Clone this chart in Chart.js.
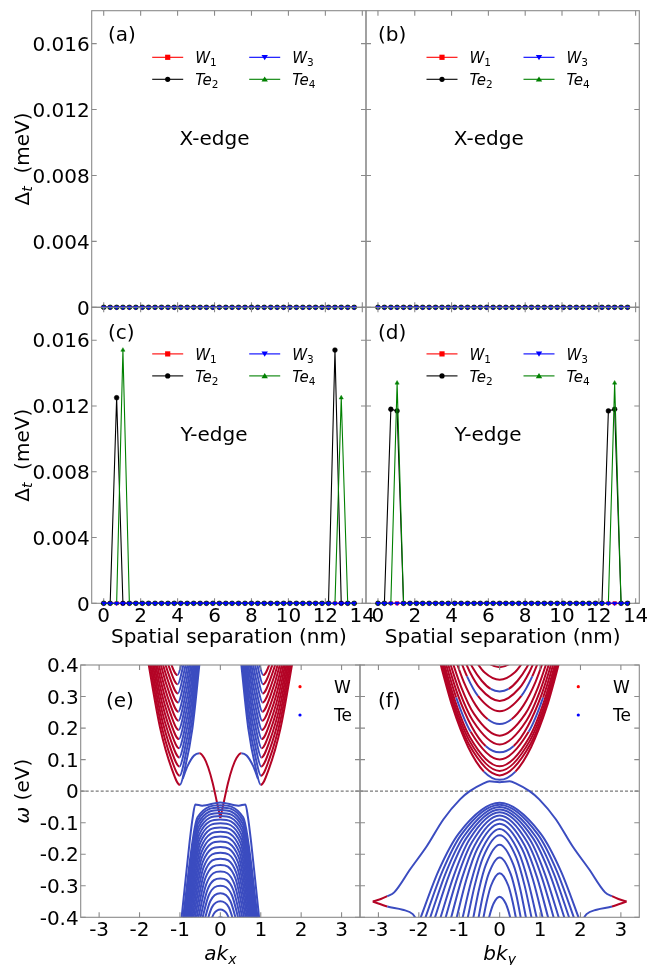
<!DOCTYPE html>
<html>
<head>
<meta charset="utf-8">
<script src="https://cdn.jsdelivr.net/npm/chart.js@4.4.1/dist/chart.umd.min.js"></script>
<style>
  html, body { margin: 0; padding: 0; background: #fff; }
  #fig { position: relative; width: 647px; height: 965px; overflow: hidden; }
  #fig canvas { position: absolute; left: 0; top: 0; }
</style>
</head>
<body>
<div id="fig">
  <canvas id="pa" width="647" height="965"></canvas>
  <canvas id="pb" width="647" height="965"></canvas>
  <canvas id="pc" width="647" height="965"></canvas>
  <canvas id="pd" width="647" height="965"></canvas>
  <canvas id="pe" width="647" height="965"></canvas>
  <canvas id="pf" width="647" height="965"></canvas>
</div>
<script>
// ---------- top panels: Δt vs spatial separation ----------
const sitePos = [0.00, 0.35, 0.70, 1.04, 1.39, 1.74, 2.09, 2.43, 2.78, 3.13,
                 3.48, 3.82, 4.17, 4.52, 4.87, 5.22, 5.56, 5.91, 6.26, 6.61,
                 6.95, 7.30, 7.65, 8.00, 8.34, 8.69, 9.04, 9.39, 9.74, 10.08,
                 10.43, 10.78, 11.13, 11.47, 11.82, 12.17, 12.52, 12.86, 13.21, 13.56];

// X-edge (a, b): everything sits on zero
const xEdgeW1  = [0,0,0,0,0,0,0,0,0,0, 0,0,0,0,0,0,0,0,0,0, 0,0,0,0,0,0,0,0,0,0, 0,0,0,0,0,0,0,0,0,0];
const xEdgeTe2 = [0,0,0,0,0,0,0,0,0,0, 0,0,0,0,0,0,0,0,0,0, 0,0,0,0,0,0,0,0,0,0, 0,0,0,0,0,0,0,0,0,0];
const xEdgeW3  = [0,0,0,0,0,0,0,0,0,0, 0,0,0,0,0,0,0,0,0,0, 0,0,0,0,0,0,0,0,0,0, 0,0,0,0,0,0,0,0,0,0];
const xEdgeTe4 = [0,0,0,0,0,0,0,0,0,0, 0,0,0,0,0,0,0,0,0,0, 0,0,0,0,0,0,0,0,0,0, 0,0,0,0,0,0,0,0,0,0];

// Y-edge (c)
const yEdgeCW1  = [0,0,0,0,0,0,0,0,0,0, 0,0,0,0,0,0,0,0,0,0, 0,0,0,0,0,0,0,0,0,0, 0,0,0,0,0,0,0,0,0,0];
const yEdgeCTe2 = [0,0,0.0125,0,0,0,0,0,0,0, 0,0,0,0,0,0,0,0,0,0, 0,0,0,0,0,0,0,0,0,0, 0,0,0,0,0,0,0.0154,0,0,0];
const yEdgeCW3  = [0,0,0,0,0,0,0,0,0,0, 0,0,0,0,0,0,0,0,0,0, 0,0,0,0,0,0,0,0,0,0, 0,0,0,0,0,0,0,0,0,0];
const yEdgeCTe4 = [0,0,0,0.0154,0,0,0,0,0,0, 0,0,0,0,0,0,0,0,0,0, 0,0,0,0,0,0,0,0,0,0, 0,0,0,0,0,0,0,0.0125,0,0];

// Y-edge (d)
const yEdgeDW1  = [0,0,0,0,0,0,0,0,0,0, 0,0,0,0,0,0,0,0,0,0, 0,0,0,0,0,0,0,0,0,0, 0,0,0,0,0,0,0,0,0,0];
const yEdgeDTe2 = [0,0,0.0118,0.0117,0,0,0,0,0,0, 0,0,0,0,0,0,0,0,0,0, 0,0,0,0,0,0,0,0,0,0, 0,0,0,0,0,0,0.0117,0.0118,0,0];
const yEdgeDW3  = [0,0,0,0,0,0,0,0,0,0, 0,0,0,0,0,0,0,0,0,0, 0,0,0,0,0,0,0,0,0,0, 0,0,0,0,0,0,0,0,0,0];
const yEdgeDTe4 = [0,0,0,0.0134,0,0,0,0,0,0, 0,0,0,0,0,0,0,0,0,0, 0,0,0,0,0,0,0,0,0,0, 0,0,0,0,0,0,0,0.0134,0,0];

const sepRange = [-0.65, 14.2];
const sepTicks = [0, 2, 4, 6, 8, 10, 12, 14];
const sepTickLabels = ["0", "2", "4", "6", "8", "10", "12", "14"];
const gapRange = [0, 0.018];
const gapTicks = [0, 0.004, 0.008, 0.012, 0.016];
const gapTickLabels = ["0", "0.004", "0.008", "0.012", "0.016"];

// ---------- bottom panels: band structures [k, E] ----------
const kRange = [-3.456, 3.456];
const kTicks = [-3, -2, -1, 0, 1, 2, 3];
const kTickLabels = ["-3", "-2", "-1", "0", "1", "2", "3"];
const omegaRange = [-0.4, 0.4];
const omegaTicks = [-0.4, -0.3, -0.2, -0.1, 0, 0.1, 0.2, 0.3, 0.4];
const omegaTickLabels = ["-0.4", "-0.3", "-0.2", "-0.1", "0", "0.1", "0.2", "0.3", "0.4"];

// (e) conduction pockets around ak_x = -1 and +1
const eCondLeft = [
  [[-1.84,0.45],[-1.49,0.20],[-1.20,0.07],[-1.00,0.02],[-0.88,0.07],[-0.69,0.20],[-0.48,0.45]],
  [[-1.845,0.479],[-1.495,0.229],[-1.205,0.099],[-1.005,0.049],[-0.885,0.099],[-0.695,0.229],[-0.485,0.479]],
  [[-1.85,0.508],[-1.50,0.258],[-1.21,0.128],[-1.01,0.078],[-0.89,0.128],[-0.70,0.258],[-0.49,0.508]],
  [[-1.855,0.537],[-1.505,0.287],[-1.215,0.157],[-1.015,0.107],[-0.895,0.157],[-0.705,0.287],[-0.495,0.537]],
  [[-1.86,0.566],[-1.51,0.316],[-1.22,0.186],[-1.02,0.136],[-0.90,0.186],[-0.71,0.316],[-0.50,0.566]],
  [[-1.865,0.595],[-1.515,0.345],[-1.225,0.215],[-1.025,0.165],[-0.905,0.215],[-0.715,0.345],[-0.505,0.595]],
  [[-1.87,0.624],[-1.52,0.374],[-1.23,0.244],[-1.03,0.194],[-0.91,0.244],[-0.72,0.374],[-0.51,0.624]],
  [[-1.875,0.653],[-1.525,0.403],[-1.235,0.273],[-1.035,0.223],[-0.915,0.273],[-0.725,0.403],[-0.515,0.653]],
  [[-1.88,0.682],[-1.53,0.432],[-1.24,0.302],[-1.04,0.252],[-0.92,0.302],[-0.73,0.432],[-0.52,0.682]],
  [[-1.885,0.711],[-1.535,0.461],[-1.245,0.331],[-1.045,0.281],[-0.925,0.331],[-0.735,0.461],[-0.525,0.711]],
  [[-1.89,0.74],[-1.54,0.49],[-1.25,0.36],[-1.05,0.31],[-0.93,0.36],[-0.74,0.49],[-0.53,0.74]],
  [[-1.895,0.769],[-1.545,0.519],[-1.255,0.389],[-1.055,0.339],[-0.935,0.389],[-0.745,0.519],[-0.535,0.769]],
  [[-1.90,0.798],[-1.55,0.548],[-1.26,0.418],[-1.06,0.368],[-0.94,0.418],[-0.75,0.548],[-0.54,0.798]]
];
const eCondRight = [
  [[0.48,0.45],[0.69,0.20],[0.88,0.07],[1.00,0.02],[1.20,0.07],[1.49,0.20],[1.84,0.45]],
  [[0.485,0.479],[0.695,0.229],[0.885,0.099],[1.005,0.049],[1.205,0.099],[1.495,0.229],[1.845,0.479]],
  [[0.49,0.508],[0.70,0.258],[0.89,0.128],[1.01,0.078],[1.21,0.128],[1.50,0.258],[1.85,0.508]],
  [[0.495,0.537],[0.705,0.287],[0.895,0.157],[1.015,0.107],[1.215,0.157],[1.505,0.287],[1.855,0.537]],
  [[0.50,0.566],[0.71,0.316],[0.90,0.186],[1.02,0.136],[1.22,0.186],[1.51,0.316],[1.86,0.566]],
  [[0.505,0.595],[0.715,0.345],[0.905,0.215],[1.025,0.165],[1.225,0.215],[1.515,0.345],[1.865,0.595]],
  [[0.51,0.624],[0.72,0.374],[0.91,0.244],[1.03,0.194],[1.23,0.244],[1.52,0.374],[1.87,0.624]],
  [[0.515,0.653],[0.725,0.403],[0.915,0.273],[1.035,0.223],[1.235,0.273],[1.525,0.403],[1.875,0.653]],
  [[0.52,0.682],[0.73,0.432],[0.92,0.302],[1.04,0.252],[1.24,0.302],[1.53,0.432],[1.88,0.682]],
  [[0.525,0.711],[0.735,0.461],[0.925,0.331],[1.045,0.281],[1.245,0.331],[1.535,0.461],[1.885,0.711]],
  [[0.53,0.74],[0.74,0.49],[0.93,0.36],[1.05,0.31],[1.25,0.36],[1.54,0.49],[1.89,0.74]],
  [[0.535,0.769],[0.745,0.519],[0.935,0.389],[1.055,0.339],[1.255,0.389],[1.545,0.519],[1.895,0.769]],
  [[0.54,0.798],[0.75,0.548],[0.94,0.418],[1.06,0.368],[1.26,0.418],[1.55,0.548],[1.90,0.798]]
];
// (e) valence dome around ak_x = 0
const eValTop = [[-0.975,-0.42],[-0.86,-0.28],[-0.76,-0.16],[-0.68,-0.08],[-0.62,-0.042],[-0.45,-0.046],[0,-0.036],
                 [0.45,-0.046],[0.62,-0.042],[0.68,-0.08],[0.76,-0.16],[0.86,-0.28],[0.975,-0.42]];
const eVal = [
  [[-0.942,-0.42],[-0.565,-0.083],[0,-0.045],[0.565,-0.083],[0.942,-0.42]],
  [[-0.932,-0.42],[-0.559,-0.092],[0,-0.052],[0.559,-0.092],[0.932,-0.42]],
  [[-0.920,-0.42],[-0.552,-0.103],[0,-0.060],[0.552,-0.103],[0.920,-0.42]],
  [[-0.906,-0.42],[-0.544,-0.114],[0,-0.069],[0.544,-0.114],[0.906,-0.42]],
  [[-0.890,-0.42],[-0.534,-0.125],[0,-0.079],[0.534,-0.125],[0.890,-0.42]],
  [[-0.873,-0.42],[-0.524,-0.138],[0,-0.090],[0.524,-0.138],[0.873,-0.42]],
  [[-0.854,-0.42],[-0.512,-0.151],[0,-0.102],[0.512,-0.151],[0.854,-0.42]],
  [[-0.833,-0.42],[-0.500,-0.165],[0,-0.115],[0.500,-0.165],[0.833,-0.42]],
  [[-0.809,-0.42],[-0.485,-0.179],[0,-0.129],[0.485,-0.179],[0.809,-0.42]],
  [[-0.784,-0.42],[-0.470,-0.194],[0,-0.144],[0.470,-0.194],[0.784,-0.42]],
  [[-0.756,-0.42],[-0.454,-0.209],[0,-0.160],[0.454,-0.209],[0.756,-0.42]],
  [[-0.726,-0.42],[-0.436,-0.225],[0,-0.177],[0.436,-0.225],[0.726,-0.42]],
  [[-0.694,-0.42],[-0.416,-0.242],[0,-0.195],[0.416,-0.242],[0.694,-0.42]],
  [[-0.658,-0.42],[-0.395,-0.259],[0,-0.214],[0.395,-0.259],[0.658,-0.42]],
  [[-0.619,-0.42],[-0.371,-0.276],[0,-0.234],[0.371,-0.276],[0.619,-0.42]],
  [[-0.576,-0.42],[-0.346,-0.294],[0,-0.255],[0.346,-0.294],[0.576,-0.42]],
  [[-0.528,-0.42],[-0.317,-0.312],[0,-0.277],[0.317,-0.312],[0.528,-0.42]],
  [[-0.476,-0.42],[-0.286,-0.330],[0,-0.300],[0.286,-0.330],[0.476,-0.42]],
  [[-0.416,-0.42],[-0.250,-0.349],[0,-0.324],[0.250,-0.349],[0.416,-0.42]],
  [[-0.347,-0.42],[-0.208,-0.368],[0,-0.349],[0.208,-0.368],[0.347,-0.42]],
  [[-0.264,-0.42],[-0.158,-0.388],[0,-0.375],[0.158,-0.388],[0.264,-0.42]],
  [[-0.162,-0.42],[-0.097,-0.406],[0,-0.400],[0.097,-0.406],[0.162,-0.42]]
];
// (e) edge states crossing near ak_x = 0
const eEdgeLeft = [[-0.93,0.040],[-0.81,0.080],[-0.65,0.113],[-0.52,0.120],[-0.40,0.105],
                   [-0.30,0.075],[-0.19,0.026],[-0.09,-0.032],[0.00,-0.085]];
const eEdgeRight = [[0.00,-0.085],[0.09,-0.032],[0.19,0.026],[0.30,0.075],[0.40,0.105],
                    [0.52,0.120],[0.65,0.113],[0.81,0.080],[0.93,0.040]];

// (f) conduction bands around bk_y = 0, with W/Te weight per segment
const fCond = [
  [[-1.561,0.45],[-1.171,0.269],[-0.780,0.140],[-0.390,0.062],[0,0.036],[0.390,0.062],[0.780,0.140],[1.171,0.269],[1.561,0.45]],
  [[-1.534,0.45],[-1.150,0.275],[-0.767,0.150],[0,0.050],[0.767,0.150],[1.150,0.275],[1.534,0.45]],
  [[-1.507,0.45],[-1.130,0.281],[-0.753,0.161],[0,0.064],[0.753,0.161],[1.130,0.281],[1.507,0.45]],
  [[-1.477,0.45],[-1.108,0.288],[-0.739,0.172],[0,0.079],[0.739,0.172],[1.108,0.288],[1.477,0.45]],
  [[-1.435,0.45],[-1.076,0.297],[-0.717,0.188],[0,0.100],[0.717,0.188],[1.076,0.297],[1.435,0.45]],
  [[-1.387,0.45],[-1.040,0.307],[-0.693,0.205],[-0.347,0.143],[0,0.123],[0.347,0.143],[0.693,0.205],[1.040,0.307],[1.387,0.45]],
  [[-1.333,0.45],[-1.000,0.318],[-0.666,0.224],[0,0.148],[0.666,0.224],[1.000,0.318],[1.333,0.45]],
  [[-1.270,0.45],[-0.952,0.330],[-0.635,0.245],[0,0.176],[0.635,0.245],[0.952,0.330],[1.270,0.45]],
  [[-1.181,0.45],[-0.886,0.346],[-0.590,0.272],[-0.295,0.228],[0,0.213],[0.295,0.228],[0.590,0.272],[0.886,0.346],[1.181,0.45]],
  [[-1.076,0.45],[-0.807,0.364],[-0.538,0.302],[0,0.253],[0.538,0.302],[0.807,0.364],[1.076,0.45]],
  [[-0.982,0.45],[-0.737,0.378],[-0.491,0.327],[0,0.286],[0.491,0.327],[0.737,0.378],[0.982,0.45]],
  [[-0.888,0.45],[-0.666,0.391],[-0.444,0.350],[-0.222,0.324],[0,0.316],[0.222,0.324],[0.444,0.350],[0.666,0.391],[0.888,0.45]],
  [[-0.755,0.45],[-0.566,0.408],[-0.378,0.377],[0,0.353],[0.378,0.377],[0.566,0.408],[0.755,0.45]],
  [[-0.579,0.45],[-0.434,0.425],[-0.290,0.407],[0,0.393],[0.290,0.407],[0.434,0.425],[0.579,0.45]]
];
const fCondAtoms = ["WWWTTWWW", "WWWWWW", "WWWWWW", "WWWWWW", "WTWWTW", "WWWTTWWW", "WWWWWW",
                    "WWWWWW", "WWWTTWWW", "WTWWTW", "WWWWWW", "WWWTTWWW", "WWWWWW", "WWWWWW"];
// (f) valence domes
const fVal = [
  [[-2.01,-0.42],[-1.51,-0.252],[-1.005,-0.133],[0,-0.037],[1.005,-0.133],[1.51,-0.252],[2.01,-0.42]],
  [[-1.89,-0.42],[-1.42,-0.255],[-0.945,-0.137],[0,-0.043],[0.945,-0.137],[1.42,-0.255],[1.89,-0.42]],
  [[-1.77,-0.42],[-1.33,-0.258],[-0.885,-0.143],[0,-0.050],[0.885,-0.143],[1.33,-0.258],[1.77,-0.42]],
  [[-1.65,-0.42],[-1.24,-0.262],[-0.825,-0.149],[0,-0.058],[0.825,-0.149],[1.24,-0.262],[1.65,-0.42]],
  [[-1.51,-0.42],[-1.13,-0.266],[-0.755,-0.155],[0,-0.067],[0.755,-0.155],[1.13,-0.266],[1.51,-0.42]],
  [[-1.38,-0.42],[-1.035,-0.270],[-0.69,-0.163],[0,-0.077],[0.69,-0.163],[1.035,-0.270],[1.38,-0.42]],
  [[-1.24,-0.42],[-0.93,-0.275],[-0.62,-0.172],[0,-0.089],[0.62,-0.172],[0.93,-0.275],[1.24,-0.42]],
  [[-1.10,-0.42],[-0.825,-0.281],[-0.55,-0.182],[0,-0.103],[0.55,-0.182],[0.825,-0.281],[1.10,-0.42]],
  [[-0.95,-0.42],[-0.71,-0.289],[-0.475,-0.195],[0,-0.120],[0.475,-0.195],[0.71,-0.289],[0.95,-0.42]],
  [[-0.82,-0.42],[-0.615,-0.298],[-0.41,-0.210],[0,-0.140],[0.41,-0.210],[0.615,-0.298],[0.82,-0.42]],
  [[-0.68,-0.42],[-0.51,-0.311],[-0.34,-0.233],[0,-0.170],[0.34,-0.233],[0.51,-0.311],[0.68,-0.42]],
  [[-0.55,-0.42],[-0.41,-0.328],[-0.275,-0.263],[0,-0.210],[0.275,-0.263],[0.41,-0.328],[0.55,-0.42]],
  [[-0.43,-0.42],[-0.32,-0.350],[-0.215,-0.300],[0,-0.260],[0.215,-0.300],[0.32,-0.350],[0.43,-0.42]],
  [[-0.30,-0.42],[-0.225,-0.383],[-0.15,-0.356],[0,-0.335],[0.15,-0.356],[0.225,-0.383],[0.30,-0.42]]
];
// (f) wide band spanning the zone, and the lower branches meeting it at ±π
const fWide = [[-3.14,-0.350],[-2.94,-0.342],[-2.78,-0.333],[-2.61,-0.321],[-2.21,-0.247],[-1.80,-0.174],
               [-1.39,-0.089],[-0.98,-0.026],[-0.74,0.000],[-0.41,0.024],[-0.25,0.031],[0.00,0.028],
               [0.25,0.031],[0.41,0.024],[0.74,0.000],[0.98,-0.026],[1.39,-0.089],[1.80,-0.174],
               [2.21,-0.247],[2.61,-0.321],[2.78,-0.333],[2.94,-0.342],[3.14,-0.350]];
const fWideAtoms = "WWTTTTTTTTTTTTTTTTTTWW";
const fLowLeft = [[-3.14,-0.350],[-2.78,-0.366],[-2.40,-0.376],[-2.15,-0.390],[-2.00,-0.420]];
const fLowRight = [[2.00,-0.420],[2.15,-0.390],[2.40,-0.376],[2.78,-0.366],[3.14,-0.350]];

// ---------- styling ----------
const W = 647, H = 965;
const FAM = '"DejaVu Sans", "Liberation Sans", sans-serif';
const font = (size, style) => (style ? style + " " : "") + size + "px " + FAM;
const FRAME = "#8a8a8a";
const ATOM = { W: "#b40426", T: "#3b4cc0" };

const gapTitle = [{ t: "\u0394", f: font(20) }, { t: "t", f: font(14, "italic"), dy: 3.5 },
                  { t: "  (meV)", f: font(20) }];
const sepTitle = [{ t: "Spatial separation (nm)", f: font(20) }];
const omegaTitle = [{ t: "\u03c9", f: font(20, "italic") }, { t: " (eV)", f: font(20) }];
const akTitle = [{ t: "ak", f: font(20, "italic") }, { t: "x", f: font(14, "italic"), dy: 4 }];
const bkTitle = [{ t: "bk", f: font(20, "italic") }, { t: "y", f: font(14, "italic"), dy: 4 }];

const siteLegend = [
  { col: 0, row: 0, color: "#ff0000", mark: "rect", label: [{ t: "W", f: font(15, "italic") }, { t: "1", f: font(10.5), dy: 3 }] },
  { col: 0, row: 1, color: "#000000", mark: "circle", label: [{ t: "Te", f: font(15, "italic") }, { t: "2", f: font(10.5), dy: 3 }] },
  { col: 1, row: 0, color: "#0000ff", mark: "down", label: [{ t: "W", f: font(15, "italic") }, { t: "3", f: font(10.5), dy: 3 }] },
  { col: 1, row: 1, color: "#008000", mark: "up", label: [{ t: "Te", f: font(15, "italic") }, { t: "4", f: font(10.5), dy: 3 }] }
];

const panels = {
  pa: { rect: [91.7, 10.7, 366, 307.3], xlim: sepRange, ylim: gapRange, xt: sepTicks, yt: gapTicks,
        yLab: gapTickLabels, yTitle: gapTitle, tag: ["(a)", 108, 40.7], note: ["X-edge", 214.5, 144.5], legend: true },
  pb: { rect: [366, 10.7, 639.3, 307.3], xlim: sepRange, ylim: gapRange, xt: sepTicks, yt: gapTicks,
        tag: ["(b)", 378, 40.7], note: ["X-edge", 488.8, 144.5], legend: true },
  pc: { rect: [91.7, 307.3, 366, 603.3], xlim: sepRange, ylim: gapRange, xt: sepTicks, yt: gapTicks,
        xLab: sepTickLabels, yLab: gapTickLabels, yTitle: gapTitle, xTitle: sepTitle, xTitleY: 643,
        tag: ["(c)", 108, 339], note: ["Y-edge", 214, 441], legend: true },
  pd: { rect: [366, 307.3, 639.3, 603.3], xlim: sepRange, ylim: gapRange, xt: sepTicks, yt: gapTicks,
        xLab: sepTickLabels, xTitle: sepTitle, xTitleY: 643,
        tag: ["(d)", 378, 339], note: ["Y-edge", 488, 441], legend: true },
  pe: { rect: [80.7, 665, 360, 917.3], xlim: kRange, ylim: omegaRange, xt: kTicks, yt: omegaTicks,
        xLab: kTickLabels, yLab: omegaTickLabels, yTitle: omegaTitle, xTitle: akTitle, xTitleY: 960,
        tag: ["(e)", 106, 707], atomLegend: [300, 334], zero: true, frameOnTop: true },
  pf: { rect: [360, 665, 639.3, 917.3], xlim: kRange, ylim: omegaRange, xt: kTicks, yt: omegaTicks,
        xLab: kTickLabels, xTitle: bkTitle, xTitleY: 960,
        tag: ["(f)", 378, 707], atomLegend: [578.3, 613], zero: true, frameOnTop: true }
};

// ---------- drawing helpers ----------
function drawRich(ctx, parts, x, y, align) {
  let w = 0;
  parts.forEach(p => { ctx.font = p.f; w += ctx.measureText(p.t).width; });
  let cx = align === "center" ? x - w / 2 : (align === "right" ? x - w : x);
  ctx.textAlign = "left";
  ctx.textBaseline = "alphabetic";
  parts.forEach(p => {
    ctx.font = p.f;
    ctx.fillText(p.t, cx, y + (p.dy || 0));
    cx += ctx.measureText(p.t).width;
  });
}

function legendMark(ctx, type, x, y, color) {
  ctx.fillStyle = color;
  ctx.beginPath();
  if (type === "rect") ctx.rect(x - 2.6, y - 2.6, 5.2, 5.2);
  else if (type === "circle") ctx.arc(x, y, 2.6, 0, 2 * Math.PI);
  else if (type === "down") { ctx.moveTo(x - 3.2, y - 2.3); ctx.lineTo(x + 3.2, y - 2.3); ctx.lineTo(x, y + 2.9); ctx.closePath(); }
  else { ctx.moveTo(x - 3.2, y + 2.3); ctx.lineTo(x + 3.2, y + 2.3); ctx.lineTo(x, y - 2.9); ctx.closePath(); }
  ctx.fill();
}

function drawFrame(chart, s) {
  const ctx = chart.ctx, a = chart.chartArea;
  const xs = chart.scales.x, ys = chart.scales.y;
  ctx.save();
  ctx.strokeStyle = FRAME;
  ctx.lineWidth = 1.1;
  ctx.setLineDash([]);
  ctx.strokeRect(a.left, a.top, a.right - a.left, a.bottom - a.top);
  ctx.beginPath();
  s.xt.forEach(v => {
    const px = xs.getPixelForValue(v);
    if (px < a.left - 0.5 || px > a.right + 0.5) return;
    ctx.moveTo(px, a.bottom); ctx.lineTo(px, a.bottom - 5);
    ctx.moveTo(px, a.top); ctx.lineTo(px, a.top + 5);
  });
  s.yt.forEach(v => {
    const py = ys.getPixelForValue(v);
    ctx.moveTo(a.left, py); ctx.lineTo(a.left + 5, py);
    ctx.moveTo(a.right, py); ctx.lineTo(a.right - 5, py);
  });
  ctx.stroke();
  ctx.restore();
}

function drawZero(chart) {
  const ctx = chart.ctx, a = chart.chartArea;
  const py = chart.scales.y.getPixelForValue(0);
  ctx.save();
  ctx.strokeStyle = "#7a7a7a";
  ctx.lineWidth = 1.2;
  ctx.setLineDash([3, 2]);
  ctx.beginPath();
  ctx.moveTo(a.left, py);
  ctx.lineTo(a.right, py);
  ctx.stroke();
  ctx.restore();
}

function drawTexts(chart, s) {
  const ctx = chart.ctx, a = chart.chartArea;
  const xs = chart.scales.x, ys = chart.scales.y;
  ctx.save();
  ctx.fillStyle = "#000";
  ctx.font = font(20);
  if (s.xLab) {
    ctx.textAlign = "center";
    ctx.textBaseline = "alphabetic";
    s.xt.forEach((v, i) => ctx.fillText(s.xLab[i], xs.getPixelForValue(v), a.bottom + 19));
  }
  if (s.yLab) {
    ctx.font = font(20);
    ctx.textAlign = "right";
    ctx.textBaseline = "alphabetic";
    s.yt.forEach((v, i) => ctx.fillText(s.yLab[i], a.left - 2, ys.getPixelForValue(v) + 7.2));
  }
  if (s.yTitle) {
    ctx.save();
    ctx.translate(28.5, (a.top + a.bottom) / 2);
    ctx.rotate(-Math.PI / 2);
    drawRich(ctx, s.yTitle, 0, 0, "center");
    ctx.restore();
  }
  if (s.xTitle) drawRich(ctx, s.xTitle, (a.left + a.right) / 2, s.xTitleY, "center");
  ctx.font = font(20);
  ctx.textAlign = "left";
  ctx.fillStyle = "#000";
  ctx.fillText(s.tag[0], s.tag[1], s.tag[2]);
  if (s.note) {
    ctx.textAlign = "center";
    ctx.fillText(s.note[0], s.note[1], s.note[2]);
  }
  if (s.legend) {
    siteLegend.forEach(e => {
      const x0 = a.left + (e.col ? 157.5 : 60.5);
      const y = a.top + (e.row ? 68.6 : 46.6);
      ctx.strokeStyle = e.color;
      ctx.lineWidth = 1.1;
      ctx.beginPath();
      ctx.moveTo(x0, y);
      ctx.lineTo(x0 + 31, y);
      ctx.stroke();
      legendMark(ctx, e.mark, x0 + 15.5, y, e.color);
      ctx.fillStyle = "#000";
      drawRich(ctx, e.label, x0 + 43, y + 5.6, "left");
    });
  }
  if (s.atomLegend) {
    const dx = s.atomLegend[0], tx = s.atomLegend[1];
    [["W", "#ff0000", 686.7], ["Te", "#0000ff", 715]].forEach(r => {
      ctx.fillStyle = r[1];
      ctx.beginPath();
      ctx.arc(dx, r[2], 1.6, 0, 2 * Math.PI);
      ctx.fill();
      ctx.fillStyle = "#000";
      ctx.font = font(17);
      ctx.textAlign = "left";
      ctx.fillText(r[0], tx, r[2] + 6.2);
    });
  }
  ctx.restore();
}

const decor = {
  id: "decor",
  beforeDatasetsDraw(chart) {
    const s = panels[chart.canvas.id];
    if (s.zero) drawZero(chart);
    if (!s.frameOnTop) drawFrame(chart, s);
  },
  afterDatasetsDraw(chart) {
    const s = panels[chart.canvas.id];
    if (s.frameOnTop) drawFrame(chart, s);
    drawTexts(chart, s);
  }
};

// ---------- datasets ----------
function siteSet(vals, color, style, rot) {
  return {
    data: sitePos.map((x, i) => ({ x: x, y: vals[i] })),
    showLine: true,
    borderColor: color,
    backgroundColor: color,
    borderWidth: 1.1,
    pointRadius: 2.4,
    pointBorderWidth: 0.5,
    pointStyle: style,
    pointRotation: rot || 0,
    clip: false
  };
}

function bandSet(pts, atoms) {
  const pick = i => ATOM[atoms.length === 1 ? atoms : atoms[i]];
  return {
    data: pts.map(p => ({ x: p[0], y: p[1] })),
    showLine: true,
    pointRadius: 0,
    borderWidth: 2,
    cubicInterpolationMode: "monotone",
    borderColor: pick(0),
    segment: { borderColor: c => pick(c.p0DataIndex) },
    clip: 0
  };
}

// datasets are listed bottom-to-top; Chart.js paints lower "order" last
function makePanel(id, datasets) {
  const s = panels[id], r = s.rect;
  datasets.forEach((d, i) => { d.order = -i; });
  return new Chart(document.getElementById(id), {
    type: "scatter",
    data: { datasets: datasets },
    options: {
      responsive: false,
      animation: false,
      events: [],
      layout: { padding: { left: r[0], top: r[1], right: W - r[2], bottom: H - r[3] } },
      scales: {
        x: { type: "linear", display: false, min: s.xlim[0], max: s.xlim[1] },
        y: { type: "linear", display: false, min: s.ylim[0], max: s.ylim[1] }
      },
      elements: { line: { capBezierPoints: false } },
      plugins: { legend: { display: false }, tooltip: { enabled: false } }
    },
    plugins: [decor]
  });
}

function siteSets(w1, te2, w3, te4) {
  return [
    siteSet(w1, "#ff0000", "rect"),
    siteSet(te2, "#000000", "circle"),
    siteSet(te4, "#008000", "triangle"),
    siteSet(w3, "#0000ff", "triangle", 180)
  ];
}

makePanel("pa", siteSets(xEdgeW1, xEdgeTe2, xEdgeW3, xEdgeTe4));
makePanel("pb", siteSets(xEdgeW1, xEdgeTe2, xEdgeW3, xEdgeTe4));
makePanel("pc", siteSets(yEdgeCW1, yEdgeCTe2, yEdgeCW3, yEdgeCTe4));
makePanel("pd", siteSets(yEdgeDW1, yEdgeDTe2, yEdgeDW3, yEdgeDTe4));

// edge states go under the valence dome so only their crossing peeks through
const eSets = [bandSet(eEdgeLeft, "TTTWWWWW"), bandSet(eEdgeRight, "WWWWWTTT"), bandSet(eValTop, "T")]
  .concat(eVal.map(b => bandSet(b, "T")))
  .concat(eCondLeft.map(b => bandSet(b, "WWWTTT")))
  .concat(eCondRight.map(b => bandSet(b, "TTTWWW")));
makePanel("pe", eSets);

const fSets = fVal.map(b => bandSet(b, "T"))
  .concat([bandSet(fLowLeft, "WTTT"), bandSet(fLowRight, "TTTW"), bandSet(fWide, fWideAtoms)])
  .concat(fCond.map((b, i) => bandSet(b, fCondAtoms[i])));
makePanel("pf", fSets);
</script>
</body>
</html>
